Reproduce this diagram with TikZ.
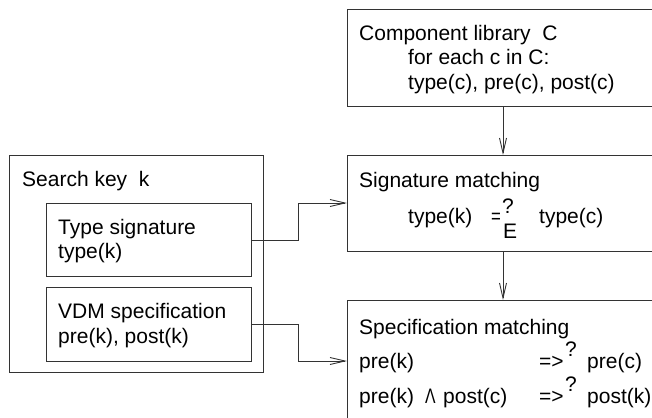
\documentclass[tikz,border=0pt]{standalone}
\usepackage{fontspec}
\setmainfont{Liberation Sans}
\usetikzlibrary{arrows.meta}
\begin{document}
\begin{tikzpicture}[x=1pt,y=-1pt,
  box/.style={draw=black!80, line width=0.9pt, inner sep=0pt, anchor=north west},
  txt/.style={anchor=base west, inner sep=0pt, font=\fontsize{21}{25}\selectfont},
  arr/.style={draw=black!80, line width=0.9pt, -{Straight Barb[length=15pt,width=7pt]}}]
\useasboundingbox (0,0) rectangle (652,417);
\clip (0,0) rectangle (652,417);
% boxes
\node[box, minimum width=318pt, minimum height=97pt] (comp) at (347,9) {};
\node[box, minimum width=318pt, minimum height=96pt] (sig) at (347,155) {};
\node[box, minimum width=318pt, minimum height=130pt] (spec) at (347,300) {};
\node[box, minimum width=254pt, minimum height=217pt] (key) at (9,155) {};
\node[box, minimum width=205pt, minimum height=73pt] (type) at (46,203) {};
\node[box, minimum width=205pt, minimum height=74pt] (vdm) at (46,287) {};
% texts
\node[txt] (t1) at (359,41) {Component library\ \ C};
\node[txt] (t2) at (408,65) {for each c in C:};
\node[txt] (t3) at (408,90) {type(c), pre(c), post(c)};
\node[txt] (s1) at (359,187) {Signature matching};
\node[txt] (s2) at (408,223) {type(k)};
\node[txt] (s3) at (491,223) {\scalebox{0.8}[1]{=}};
\node[txt] (s4) at (502,213) {?};
\node[txt] (s5) at (503,238) {E};
\node[txt] (s6) at (539,223) {type(c)};
\node[txt] (p1) at (359,334) {Specification matching};
\node[txt] (p2) at (359,368) {pre(k)};
\node[txt] (p3) at (539,368) {=>};
\node[txt] (p4) at (565,356) {?};
\node[txt] (p5) at (587,368) {pre(c)};
\node[txt] (q1) at (359,403) {pre(k)};
\node[txt] (q2) at (425,403) {\scalebox{0.75}[1]{Λ}};
\node[txt] (q3) at (443,403) {post(c)};
\node[txt] (q4) at (539,403) {=>};
\node[txt] (q5) at (565,391) {?};
\node[txt] (q6) at (587,403) {post(k)};
\node[txt] (k1) at (22,186) {Search key\ \ k};
\node[txt] (k2) at (58,234) {Type signature};
\node[txt] (k3) at (58,258) {type(k)};
\node[txt] (k4) at (58,318) {VDM specification};
\node[txt] (k5) at (58,343) {pre(k), post(k)};
% connectors
\coordinate (cx) at (503,0);
\coordinate (ja) at (298,203);
\coordinate (jb) at (298,361);
\draw[arr] (comp.south -| cx) -- (sig.north -| cx);
\draw[arr] (sig.south -| cx) -- (spec.north -| cx);
\draw[arr] (type.east) -| (ja) -- (ja -| sig.west);
\draw[arr] (vdm.east) -| (jb) -- (jb -| spec.west);
\end{tikzpicture}
\end{document}
